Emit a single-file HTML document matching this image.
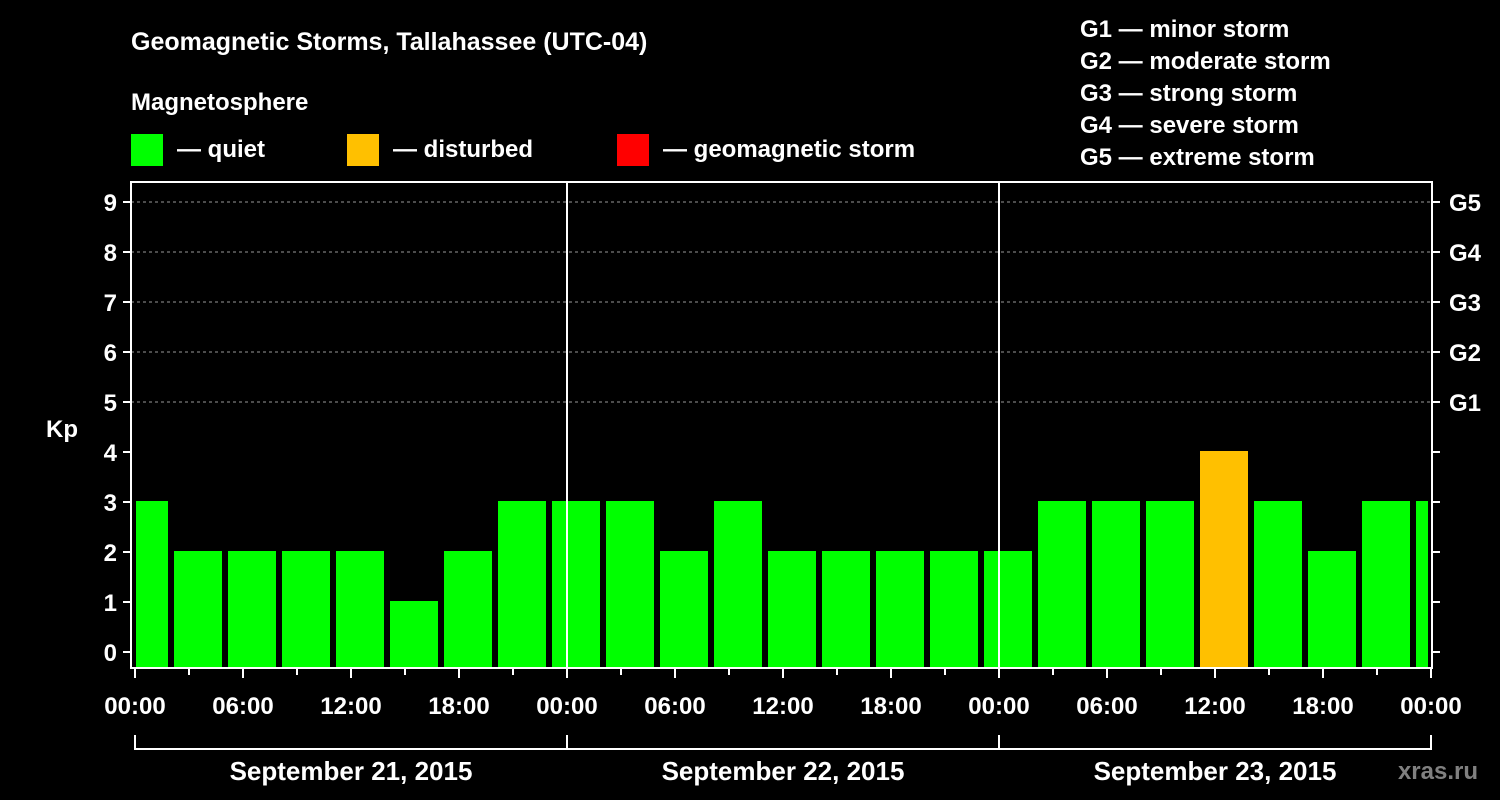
<!DOCTYPE html>
<html><head><meta charset="utf-8"><style>
body{margin:0;background:#000;width:1500px;height:800px;overflow:hidden}
svg{display:block}
text{font-family:"Liberation Sans",sans-serif;font-weight:bold;fill:#fff}
</style></head><body>
<svg width="1500" height="800">
<text x="131" y="50" font-size="25">Geomagnetic Storms, Tallahassee (UTC-04)</text>
<text x="131" y="110" font-size="24">Magnetosphere</text>
<g>
<rect x="131" y="134" width="32" height="32" fill="#00ff00"/>
<text x="177" y="157" font-size="24">— quiet</text>
<rect x="347" y="134" width="32" height="32" fill="#ffc000"/>
<text x="393" y="157" font-size="24">— disturbed</text>
<rect x="617" y="134" width="32" height="32" fill="#ff0000"/>
<text x="663" y="157" font-size="24">— geomagnetic storm</text>
</g>
<g font-size="24">
<text x="1080" y="37">G1 — minor storm</text>
<text x="1080" y="69">G2 — moderate storm</text>
<text x="1080" y="101">G3 — strong storm</text>
<text x="1080" y="133">G4 — severe storm</text>
<text x="1080" y="165">G5 — extreme storm</text>
</g>
<text x="62" y="437" font-size="24" text-anchor="middle">Kp</text>
<g id="plot"></g>
<text x="1478" y="779" font-size="24" text-anchor="end" style="fill:#808080">xras.ru</text>
</svg>
<script>
const kpValues=[3,2,2,2,2,1,2,3,3,3,2,3,2,2,2,2,2,3,3,3,4,3,2,3,3];
const firstBarCenterHour=0.5;
const dayLabels=["September 21, 2015","September 22, 2015","September 23, 2015"];
const hourLabels=["00:00","06:00","12:00","18:00"];
const gLabels=["G1","G2","G3","G4","G5"];
const L=131,R=1432,T=182,B=668,X0=135,PXH=18,HOURS=72;
const x=h=>X0+h*PXH, y=v=>652-v*50;
const ns="http://www.w3.org/2000/svg", g=document.getElementById('plot');
function mk(t,a){const e=document.createElementNS(ns,t);for(const k in a)e.setAttribute(k,a[k]);g.appendChild(e);return e;}
for(let v=5;v<=9;v++){const e=mk('line',{x1:L,x2:R,y1:y(v),y2:y(v),stroke:'#999','stroke-dasharray':'3,3','stroke-width':1});

}
kpValues.forEach((v,i)=>{const c=firstBarCenterHour+3*i;let x1=x(c-1.5)+3,x2=x(c+1.5)-3;x1=Math.max(x1,L+5);x2=Math.min(x2,R-4);
const col=v>=5?'#ff0000':(v>=4?'#ffc000':'#00ff00');
const e=mk('rect',{x:x1,y:y(v)-1,width:x2-x1,height:B-1-(y(v)-1),fill:col});

});
for(let d=1;d<3;d++){const e=mk('line',{x1:x(24*d),x2:x(24*d),y1:T,y2:B,stroke:'#fff','stroke-width':2});

}
const fr=mk('rect',{x:L,y:T,width:R-L,height:B-T,fill:'none',stroke:'#fff','stroke-width':2});


for(let v=0;v<=9;v++){
const a=mk('line',{x1:123,x2:L,y1:y(v),y2:y(v),stroke:'#fff','stroke-width':2});


const b=mk('line',{x1:R,x2:R+8,y1:y(v),y2:y(v),stroke:'#fff','stroke-width':2});


const t=mk('text',{x:117,y:y(v)+9,'font-size':24,'text-anchor':'end'});t.textContent=v;


if(v>=5){const gt=mk('text',{x:1449,y:y(v)+9,'font-size':24});gt.textContent=gLabels[v-5];

}}
for(let h=0;h<=HOURS;h+=3){const maj=h%6===0;
const e=mk('line',{x1:x(h),x2:x(h),y1:B,y2:B+(maj?10:7),stroke:'#fff','stroke-width':2});


if(maj){const t=mk('text',{x:x(h),y:714,'font-size':24,'text-anchor':'middle'});t.textContent=hourLabels[(h%24)/6];

}}
for(let d=0;d<3;d++){
const e=mk('path',{d:`M${x(24*d)},735V749H${x(24*d+24)}V735`,fill:'none',stroke:'#fff','stroke-width':2});


const t=mk('text',{x:x(24*d+12),y:780,'font-size':26,'text-anchor':'middle'});t.textContent=dayLabels[d];

}
</script>
</body></html>
